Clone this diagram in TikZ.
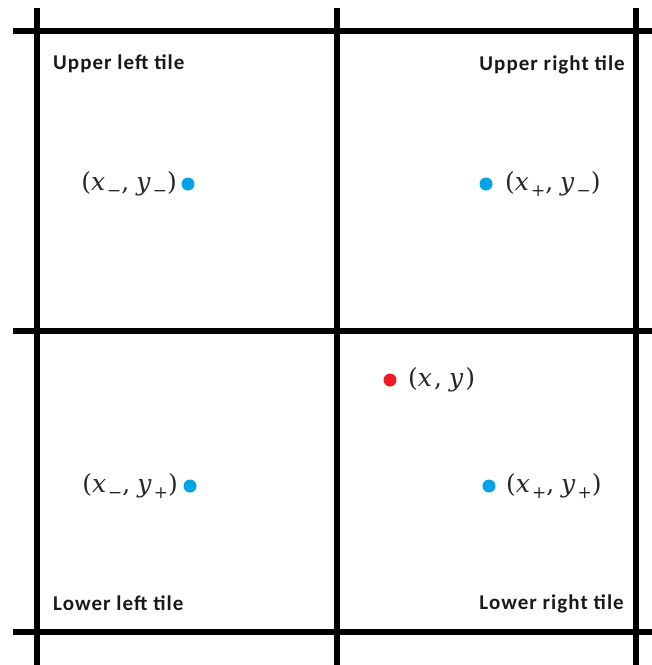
\documentclass[tikz,border=0pt]{standalone}
\usepackage{fontspec}
\setsansfont{Carlito}
\newfontfamily\ptfont[LetterSpace=8]{DejaVu Serif}
\definecolor{dotblue}{HTML}{00A2E8}
\definecolor{dotred}{HTML}{ED1C24}
\newcommand{\ptsub}[1]{\raisebox{-0.22em}{\fontsize{17}{20}\selectfont #1}}
\newcommand{\ptsep}{,\hspace{0.28em}}
\tikzset{
  grid/.style={line width=6pt, black},
  tilelabel/.style={font=\sffamily\bfseries\fontsize{21}{24}\selectfont\addfontfeature{LetterSpace=5},
    inner sep=0pt, text=black!90},
  ptlabel/.style={font=\ptfont\fontsize{25}{28}\selectfont, inner sep=0pt, text=black!85},
  bdot/.style={circle, fill=dotblue, minimum size=13pt, inner sep=0pt},
  rdot/.style={circle, fill=dotred, minimum size=13pt, inner sep=0pt}
}
\begin{document}
\begin{tikzpicture}[x=1pt,y=-1pt]
\useasboundingbox (0,0) rectangle (652,665);
% grid coordinates
\coordinate (v1t) at (37,8);   \coordinate (v1b) at (37,665);
\coordinate (v2t) at (337,8);  \coordinate (v2b) at (337,665);
\coordinate (v3t) at (636,8);  \coordinate (v3b) at (636,665);
\coordinate (h1l) at (13,31);  \coordinate (h1r) at (652,31);
\coordinate (h2l) at (13,331); \coordinate (h2r) at (652,331);
\coordinate (h3l) at (13,632); \coordinate (h3r) at (652,632);
\draw[grid] (v1t) -- (v1b);
\draw[grid] (v2t) -- (v2b);
\draw[grid] (v3t) -- (v3b);
\draw[grid] (h1l) -- (h1r);
\draw[grid] (h2l) -- (h2r);
\draw[grid] (h3l) -- (h3r);
% tile labels
\node[tilelabel, anchor=west] (ul) at (53,64) {Upper left tile};
\node[tilelabel, anchor=east] (ur) at (625,65) {Upper right tile};
\node[tilelabel, anchor=west] (ll) at (53,603) {Lower left tile};
\node[tilelabel, anchor=east] (lr) at (624,604) {Lower right tile};
% points
\node[bdot] (pmm) at (188,184) {};
\node[ptlabel, anchor=east] (lmm) at (177,184) {(\textit{x}\ptsub{−}\ptsep\textit{y}\ptsub{−})};
\node[bdot] (ppm) at (486,184) {};
\node[ptlabel, anchor=west] (lpm) at (505,184) {(\textit{x}\ptsub{+}\ptsep\textit{y}\ptsub{−})};
\node[rdot] (pxy) at (390,380) {};
\node[ptlabel, anchor=west] (lxy) at (408,380) {(\textit{x}\ptsep\textit{y})};
\node[bdot] (pmp) at (190,486) {};
\node[ptlabel, anchor=east] (lmp) at (178,486) {(\textit{x}\ptsub{−}\ptsep\textit{y}\ptsub{+})};
\node[bdot] (ppp) at (489,486) {};
\node[ptlabel, anchor=west] (lpp) at (506,486) {(\textit{x}\ptsub{+}\ptsep\textit{y}\ptsub{+})};
\end{tikzpicture}
\end{document}
